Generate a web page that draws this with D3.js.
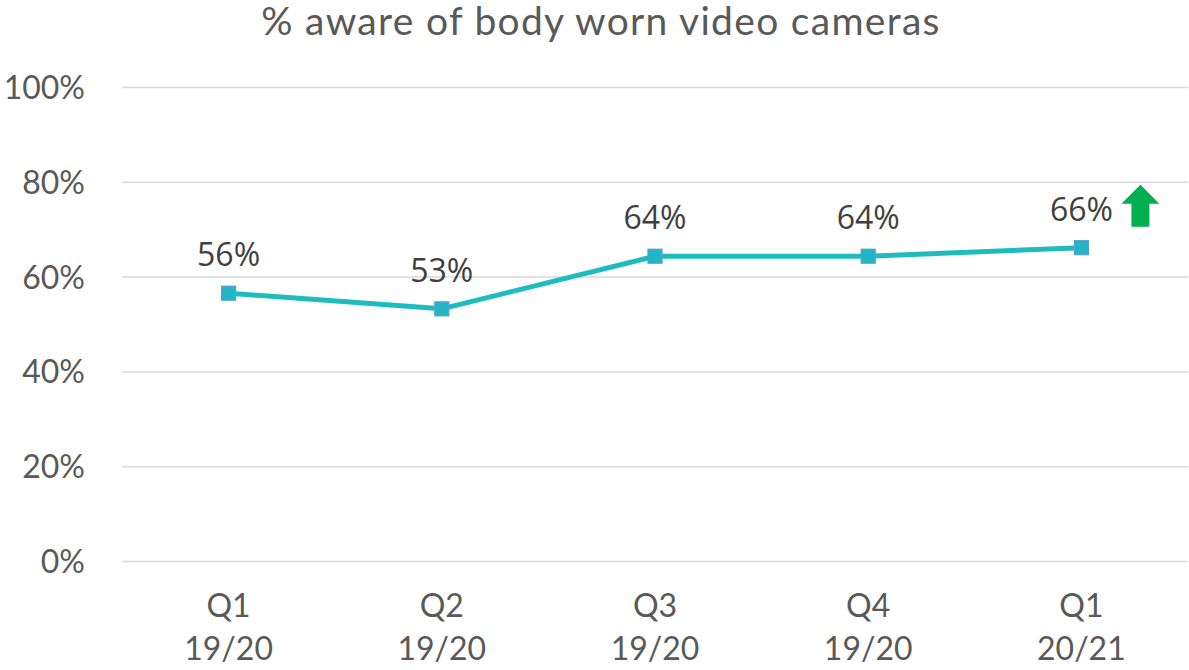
<!DOCTYPE html>
<html>
<head>
<meta charset="utf-8">
<script src="https://cdn.jsdelivr.net/npm/d3@7"></script>
<style>
  body { margin: 0; background: #fff; }
  text { font-family: Lato, "Open Sans", sans-serif; }
</style>
</head>
<body>
<svg class="awareness" width="1189" height="670"></svg>
<script>
const quarters = ['Q1', 'Q2', 'Q3', 'Q4', 'Q1'];
const years = ['19/20', '19/20', '19/20', '19/20', '20/21'];
const aware = [0.565, 0.532, 0.643, 0.643, 0.661];
const yTicks = [0, 0.2, 0.4, 0.6, 0.8, 1];

const svg = d3.select('svg.awareness');
const width = 1189;
const height = 670;
const margin = { top: 87, right: 1, bottom: 109, left: 122 };
const innerWidth = width - margin.left - margin.right;
const innerHeight = height - margin.top - margin.bottom;

const data = quarters.map((q, i) => ({ key: i, q: q, yr: years[i], v: aware[i] }));

const xScale = d3.scaleBand()
    .domain(data.map(d => d.key))
    .range([0, innerWidth]);

const yScale = d3.scaleLinear()
    .domain([0, 1])
    .range([innerHeight, 0]);

svg.append('text')
    .attr('x', 601)
    .attr('y', 35)
    .attr('text-anchor', 'middle')
    .attr('fill', '#595959')
    .style('font-size', '39px')
    .style('letter-spacing', '1.3px')
    .text('% aware of body worn video cameras');

const g = svg.append('g')
    .attr('transform', `translate(${margin.left}, ${margin.top})`);

// gridlines + y labels
const yAxis = g.append('g')
    .call(d3.axisLeft(yScale)
        .tickValues(yTicks)
        .tickSize(-innerWidth)
        .tickPadding(37)
        .tickFormat(d3.format('.0%')));
yAxis.select('.domain').remove();
yAxis.selectAll('.tick line')
    .attr('stroke', '#d9d9d9')
    .attr('stroke-width', 1.5);
yAxis.selectAll('.tick text')
    .attr('fill', '#595959')
    .attr('dy', '0.36em')
    .style('font-size', '32px')
    .style('font-family', 'Lato, sans-serif');

// x labels, two lines
const xAxis = g.append('g')
    .attr('transform', `translate(0, ${innerHeight})`)
    .call(d3.axisBottom(xScale).tickSize(0).tickFormat(''));
xAxis.select('.domain').remove();
xAxis.selectAll('.tick text').remove();
xAxis.selectAll('.tick').each(function(k) {
    const t = d3.select(this).append('text')
        .attr('fill', '#595959')
        .attr('text-anchor', 'middle')
        .style('font-size', '32px');
    t.append('tspan').attr('x', 0).attr('y', 56).text(data[k].q);
    t.append('tspan').attr('x', 0).attr('y', 99).text(data[k].yr);
});

const cx = d => xScale(d.key) + xScale.bandwidth() / 2;

const line = d3.line()
    .x(cx)
    .y(d => yScale(d.v));

g.append('path')
    .datum(data)
    .attr('fill', 'none')
    .attr('stroke', '#1fbcbf')
    .attr('stroke-width', 5)
    .attr('stroke-linejoin', 'round')
    .attr('d', line);

g.selectAll('rect.marker').data(data)
    .enter().append('rect')
    .attr('class', 'marker')
    .attr('x', d => cx(d) - 7)
    .attr('y', d => yScale(d.v) - 7)
    .attr('width', 14)
    .attr('height', 14)
    .attr('fill', '#22b6c4')
    .attr('stroke', '#5b9bd5')
    .attr('stroke-width', 1.2);

g.selectAll('text.label').data(data)
    .enter().append('text')
    .attr('class', 'label')
    .attr('x', cx)
    .attr('y', d => yScale(d.v) - 27)
    .attr('text-anchor', 'middle')
    .attr('fill', '#404040')
    .style('font-family', '"Open Sans", sans-serif')
    .style('font-size', '32px')
    .text(d => d3.format('.0%')(d.v));

// green up arrow beside last point
const last = data[data.length - 1];
const ax = cx(last) + 59;
const ay = yScale(last.v) - 63;
g.append('path')
    .attr('transform', `translate(${ax}, ${ay})`)
    .attr('d', 'M0,0 L19,19 L9,19 L9,42 L-9,42 L-9,19 L-19,19 Z')
    .attr('fill', '#00b050');
</script>
</body>
</html>
